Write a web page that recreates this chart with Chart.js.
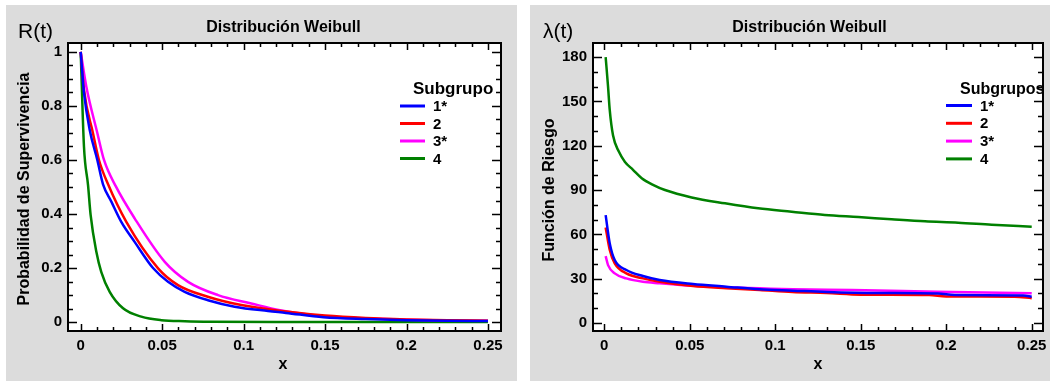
<!DOCTYPE html>
<html>
<head>
<meta charset="utf-8">
<script src="https://cdn.jsdelivr.net/npm/chart.js@4.4.1/dist/chart.umd.min.js"></script>
<style>
  body { margin: 0; background: #fff; width: 1050px; height: 383px; position: relative; overflow: hidden; }
  canvas { position: absolute; }
  #survival { left: 6px; top: 5px; }
  #hazard { left: 530px; top: 5px; }
</style>
</head>
<body>
<canvas id="survival" width="511" height="376"></canvas>
<canvas id="hazard" width="520" height="376"></canvas>
<script>
// subgroups
const groupNames = ['1*', '2', '3*', '4'];
const groupColors = ['#0000ff', '#ff0000', '#ff00ff', '#008000'];

// survival R(t)
const survX1 = [0, 0.002, 0.0055, 0.0102, 0.0137, 0.0188, 0.0249, 0.0331, 0.0444, 0.0536, 0.0638, 0.0781, 0.0945, 0.115, 0.126, 0.149, 0.175, 0.2, 0.225, 0.25];
const survY1 = [1, 0.85, 0.712, 0.6, 0.51, 0.446, 0.371, 0.297, 0.2, 0.149, 0.112, 0.081, 0.057, 0.041, 0.034, 0.018, 0.011, 0.007, 0.005, 0.004];
const survX2 = [0, 0.002, 0.0075, 0.0112, 0.0168, 0.028, 0.0475, 0.0597, 0.078, 0.0986, 0.126, 0.15, 0.175, 0.2, 0.225, 0.25];
const survY2 = [1, 0.86, 0.7, 0.6, 0.51, 0.371, 0.199, 0.137, 0.094, 0.063, 0.039, 0.024, 0.015, 0.01, 0.007, 0.005];
const survX3 = [0, 0.0034, 0.0102, 0.0143, 0.0215, 0.0331, 0.0516, 0.0659, 0.0843, 0.1047, 0.1223, 0.149, 0.175, 0.2, 0.225, 0.25];
const survY3 = [1, 0.873, 0.7, 0.6, 0.503, 0.384, 0.223, 0.149, 0.1, 0.069, 0.044, 0.022, 0.014, 0.009, 0.006, 0.005];
const survX4 = [0, 0.002, 0.0045, 0.0061, 0.0096, 0.0126, 0.0178, 0.026, 0.0372, 0.0495, 0.064, 0.08, 0.12, 0.18, 0.25];
const survY4 = [1, 0.65, 0.507, 0.396, 0.26, 0.186, 0.112, 0.051, 0.02, 0.007, 0.003, 0.001, 0, 0, 0];

// hazard lambda(t)
const hazX1 = [0.0008, 0.0032, 0.0061, 0.0129, 0.0226, 0.0324, 0.0519, 0.0714, 0.0909, 0.1104, 0.13, 0.16, 0.195, 0.205, 0.245, 0.25];
const hazY1 = [73, 53.9, 42.6, 35.9, 31.8, 29.1, 26.4, 24.6, 22.8, 21.9, 21, 20.3, 20, 18.9, 18.6, 17.8];
const hazX2 = [0.0008, 0.0032, 0.0061, 0.0129, 0.0226, 0.0324, 0.0519, 0.0714, 0.0909, 0.11, 0.13, 0.15, 0.19, 0.2, 0.24, 0.25];
const hazY2 = [64.7, 49.4, 40.4, 33.6, 30.2, 27.9, 25, 23.5, 22.3, 21, 20.3, 19.2, 18.9, 18, 17.8, 16.8];
const hazX3 = [0.0008, 0.0022, 0.0061, 0.0129, 0.0226, 0.0324, 0.0519, 0.0714, 0.0909, 0.1104, 0.145, 0.195, 0.25];
const hazY3 = [45.3, 39.2, 33.6, 30.2, 27.9, 26.9, 25.2, 24.2, 23.5, 22.8, 22.3, 21.2, 20.1];
const hazX4 = [0.0008, 0.0022, 0.0032, 0.0051, 0.0085, 0.0121, 0.0168, 0.0219, 0.0285, 0.0355, 0.0511, 0.0706, 0.09, 0.1096, 0.129, 0.1486, 0.168, 0.1876, 0.207, 0.2266, 0.25];
const hazY4 = [180, 160, 144, 127, 116, 109, 103.7, 98, 93.5, 90, 85, 81, 77.6, 75.3, 73.1, 71.7, 70.2, 68.8, 67.9, 66.5, 65.2];

// ticks
const xTicks = [0, 0.05, 0.1, 0.15, 0.2, 0.25];
const xTickLabels = ['0', '0.05', '0.1', '0.15', '0.2', '0.25'];
const survYTicks = [0, 0.2, 0.4, 0.6, 0.8, 1];
const survYTickLabels = ['0', '0.2', '0.4', '0.6', '0.8', '1'];
const hazYTicks = [0, 30, 60, 90, 120, 150, 180];
const hazYTickLabels = ['0', '30', '60', '90', '120', '150', '180'];

const FONT = '"Liberation Sans", Arial, sans-serif';

function toPoints(xs, ys) {
    return xs.map((x, i) => ({ x: x, y: ys[i] }));
}

function makeDatasets(xsList, ysList) {
    return groupNames.map((name, i) => ({
        label: name,
        data: toPoints(xsList[i], ysList[i]),
        borderColor: groupColors[i],
        borderWidth: 2.5,
        pointRadius: 0,
        cubicInterpolationMode: 'monotone',
        fill: false
    }));
}

// background, frame, inward ticks, titles and legend
const framePlugin = {
    id: 'frame',
    beforeDraw(chart) {
        const ctx = chart.ctx, a = chart.chartArea;
        ctx.save();
        ctx.fillStyle = '#dcdcdc';
        ctx.fillRect(0, 0, chart.width, chart.height);
        ctx.fillStyle = '#fff';
        ctx.fillRect(a.left, a.top, a.right - a.left, a.bottom - a.top);
        ctx.restore();
    },
    afterDraw(chart, args, o) {
        const ctx = chart.ctx, a = chart.chartArea;
        const xs = chart.scales.x, ys = chart.scales.y;
        ctx.save();
        ctx.strokeStyle = '#000';
        ctx.lineWidth = 1.5;
        ctx.beginPath();
        // x ticks (top and bottom)
        for (let v = 0; v <= 0.2501; v += 0.01) {
            const major = Math.abs(v / 0.05 - Math.round(v / 0.05)) < 1e-6;
            const len = major ? 7 : 4;
            const px = Math.round(xs.getPixelForValue(v)) + 0.5;
            ctx.moveTo(px, a.bottom); ctx.lineTo(px, a.bottom - len);
            ctx.moveTo(px, a.top); ctx.lineTo(px, a.top + len);
        }
        // y ticks (left and right)
        const yMax = o.yTicks[o.yTicks.length - 1];
        for (let v = 0; v <= yMax + 1e-9; v += o.yMinor) {
            const major = o.yTicks.some(t => Math.abs(t - v) < 1e-6);
            const len = major ? 9 : 5;
            const py = Math.round(ys.getPixelForValue(v)) + 0.5;
            ctx.moveTo(a.left, py); ctx.lineTo(a.left + len, py);
            ctx.moveTo(a.right, py); ctx.lineTo(a.right - len, py);
        }
        ctx.stroke();
        ctx.lineWidth = 2;
        ctx.strokeRect(a.left, a.top, a.right - a.left, a.bottom - a.top);

        ctx.fillStyle = '#000';
        ctx.textBaseline = 'middle';
        ctx.textAlign = 'center';
        ctx.font = 'bold 16px ' + FONT;
        ctx.fillText(o.title, o.titleX, 23);
        ctx.fillText('x', o.xLabelX, 360);

        ctx.save();
        ctx.translate(o.yLabelX, o.yLabelY);
        ctx.rotate(-Math.PI / 2);
        ctx.font = 'bold 16px ' + FONT;
        ctx.fillText(o.yLabel, 0, 0);
        ctx.restore();

        ctx.textAlign = 'left';
        ctx.textBaseline = 'alphabetic';
        ctx.font = '21px ' + FONT;
        ctx.fillText(o.corner, o.cornerX, 33);

        // legend
        const lg = o.legend;
        ctx.font = 'bold ' + lg.titleSize + 'px ' + FONT;
        ctx.fillText(lg.title, lg.titleX, 88.5);
        ctx.font = 'bold 15px ' + FONT;
        ctx.textBaseline = 'middle';
        chart.data.datasets.forEach((ds, i) => {
            const y = lg.rowY + i * lg.rowH;
            ctx.strokeStyle = ds.borderColor;
            ctx.lineWidth = 3;
            ctx.beginPath();
            ctx.moveTo(lg.lineX0, y); ctx.lineTo(lg.lineX1, y);
            ctx.stroke();
            ctx.fillText(ds.label, lg.textX, y + 1);
        });
        ctx.restore();
    }
};

function makeChart(id, datasets, cfg) {
    return new Chart(document.getElementById(id), {
        type: 'line',
        data: { datasets: datasets },
        options: {
            responsive: false,
            animation: false,
            layout: { padding: { top: 38, right: cfg.padRight, left: 0, bottom: 0 } },
            plugins: {
                legend: { display: false },
                title: { display: false },
                tooltip: { enabled: false },
                frame: cfg.frame
            },
            scales: {
                x: {
                    type: 'linear',
                    min: cfg.xMin, max: cfg.xMax,
                    grid: { display: false, drawTicks: false },
                    border: { display: false },
                    afterBuildTicks: s => { s.ticks = xTicks.map(v => ({ value: v })); },
                    afterFit: s => { s.height = 50; s.paddingLeft = 0; s.paddingRight = 0; },
                    ticks: {
                        padding: 6, color: '#000', maxRotation: 0,
                        font: { family: FONT, weight: 'bold', size: 15 },
                        callback: (v, i) => xTickLabels[i]
                    }
                },
                y: {
                    type: 'linear',
                    min: cfg.yMin, max: cfg.yMax,
                    grid: { display: false, drawTicks: false },
                    border: { display: false },
                    afterBuildTicks: s => { s.ticks = cfg.yTicks.map(v => ({ value: v })); },
                    afterFit: s => { s.width = cfg.yWidth; s.paddingTop = 0; s.paddingBottom = 0; },
                    ticks: {
                        padding: 6, color: '#000',
                        font: { family: FONT, weight: 'bold', size: 15 },
                        callback: (v, i) => cfg.yLabels[i]
                    }
                }
            }
        },
        plugins: [framePlugin]
    });
}

makeChart('survival',
    makeDatasets([survX1, survX2, survX3, survX4], [survY1, survY2, survY3, survY4]),
    {
        xMin: -0.0078, xMax: 0.258, yMin: -0.033, yMax: 1.033,
        yTicks: survYTicks, yLabels: survYTickLabels, yWidth: 62, padRight: 16,
        frame: {
            title: 'Distribución Weibull', titleX: 277.5, xLabelX: 277,
            yLabel: 'Probabilidad de Supervivencia', yLabelX: 19, yLabelY: 184,
            corner: 'R(t)', cornerX: 12,
            yTicks: survYTicks, yMinor: 0.05,
            legend: { title: 'Subgrupo', titleSize: 17, titleX: 407, lineX0: 394, lineX1: 419, textX: 427, rowY: 101, rowH: 17.5 }
        }
    });

makeChart('hazard',
    makeDatasets([hazX1, hazX2, hazX3, hazX4], [hazY1, hazY2, hazY3, hazY4]),
    {
        xMin: -0.0066, xMax: 0.2566, yMin: -5.4, yMax: 189.5,
        yTicks: hazYTicks, yLabels: hazYTickLabels, yWidth: 63, padRight: 7,
        frame: {
            title: 'Distribución Weibull', titleX: 279.5, xLabelX: 288,
            yLabel: 'Función de Riesgo', yLabelX: 20, yLabelY: 185,
            corner: 'λ(t)', cornerX: 13,
            yTicks: hazYTicks, yMinor: 10,
            legend: { title: 'Subgrupos', titleSize: 16, titleX: 430, lineX0: 416, lineX1: 442, textX: 450, rowY: 100.5, rowH: 17.8 }
        }
    });
</script>
</body>
</html>
